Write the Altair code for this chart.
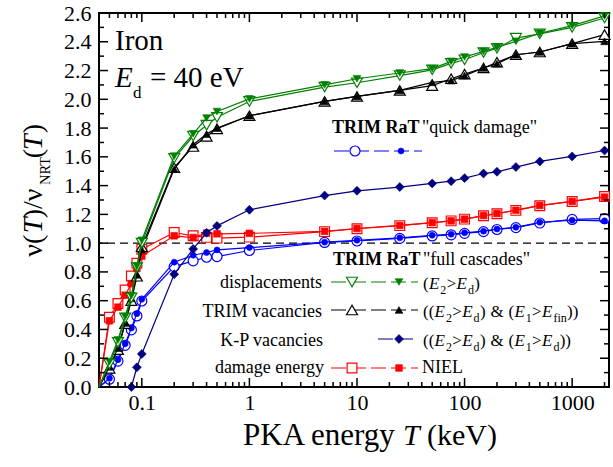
import altair as alt
import pandas as pd

# ---------------- data ----------------
T_ALL = [0.04, 0.05, 0.06, 0.07, 0.08, 0.09, 0.1, 0.2, 0.3, 0.4, 0.5, 1, 5, 10,
         25, 50, 75, 100, 150, 200, 300, 500, 1000, 2000]
T_KP = [0.08, 0.09, 0.1, 0.2, 0.3, 0.4, 0.5, 1, 5, 10, 25, 50, 75, 100, 150,
        200, 300, 500, 1000, 2000]

disp_open = [0, 0.16, 0.31, 0.48, 0.62, 0.83, 1.00, 1.59, 1.745, 1.82, 1.875, 1.985,
             2.085, 2.115, 2.165, 2.205, 2.25, 2.275, 2.325, 2.355, 2.425, 2.455, 2.50, 2.565]
disp_filled = [0, 0.176, 0.327, 0.49, 0.635, 0.84, 1.02, 1.605, 1.76, 1.87, 1.915, 2.003,
               2.10, 2.143, 2.183, 2.213, 2.264, 2.294, 2.333, 2.361, 2.403, 2.459, 2.512, 2.58]
vac_open = [0, 0.13, 0.26, 0.44, 0.60, 0.77, 0.975, 1.525, 1.672, 1.742, 1.795, 1.886,
            1.985, 2.02, 2.062, 2.095, 2.143, 2.175, 2.218, 2.258, 2.31, 2.329, 2.387, 2.45]
vac_filled = [0, 0.14, 0.27, 0.445, 0.617, 0.78, 0.955, 1.515, 1.684, 1.758, 1.80, 1.886,
              1.985, 2.02, 2.062, 2.118, 2.13, 2.165, 2.218, 2.248, 2.31, 2.329, 2.387, 2.403]
circ_open = [0, 0.054, 0.18, 0.29, 0.397, 0.494, 0.598, 0.837, 0.877, 0.902, 0.907, 0.949,
             1.005, 1.015, 1.033, 1.05, 1.058, 1.068, 1.08, 1.095, 1.108, 1.14, 1.165, 1.17]
circ_filled = [0, 0.06, 0.19, 0.30, 0.41, 0.51, 0.61, 0.868, 0.916, 0.935, 0.953, 0.969,
               1.007, 1.02, 1.037, 1.055, 1.062, 1.072, 1.083, 1.098, 1.11, 1.145, 1.16, 1.155]
damage_energy = [0, 0.485, 0.58, 0.675, 0.772, 0.861, 0.958, 1.074, 1.051, 1.04, 1.035, 1.042,
                 1.08, 1.10, 1.122, 1.142, 1.155, 1.167, 1.19, 1.205, 1.228, 1.26, 1.29, 1.325]
niel = [0, 0.46, 0.555, 0.638, 0.718, 0.824, 0.91, 1.051, 1.039, 1.07, 1.065, 1.068,
        1.082, 1.102, 1.123, 1.143, 1.155, 1.167, 1.192, 1.206, 1.229, 1.262, 1.29, 1.32]
kp_vac = [0, 0.137, 0.23, 0.784, 0.96, 1.072, 1.12, 1.232, 1.331, 1.364, 1.39, 1.415,
          1.431, 1.452, 1.484, 1.496, 1.529, 1.568, 1.603, 1.644]

X_LABELS = [0.1, 1, 10, 100, 1000]
Y_LABELS = [0.0, 0.2, 0.4, 0.6, 0.8, 1.0, 1.2, 1.4, 1.6, 1.8, 2.0, 2.2, 2.4, 2.6]
X_DOMAIN = [0.04, 2200]
Y_DOMAIN = [0, 2.6]

GREEN, BLACK, NAVY, BLUE, RED = "#008000", "#000000", "#000080", "#0000ff", "#ff0000"
FONT = "Liberation Serif"
W, H = 510, 374
PADL, PADT = 99, 13

x_minor = [m * 10 ** e for e in (-2, -1, 0, 1, 2, 3) for m in range(2, 10)]
x_minor = [round(v, 6) for v in x_minor if X_DOMAIN[0] < v < X_DOMAIN[1]]
y_major = [v for v in Y_LABELS if 0 < v < 2.6]
y_minor = [round(0.1 + 0.2 * i, 1) for i in range(13)]

X = alt.X("T:Q", scale=alt.Scale(type="log", domain=X_DOMAIN, nice=False),
          axis=alt.Axis(values=X_LABELS, format="~g", labelFont=FONT, labelFontSize=22,
                        labelColor="black", ticks=False, tickSize=0, domain=False,
                        grid=False, labelPadding=5, labelFlush=False, title=None))
Y = alt.Y("v:Q", scale=alt.Scale(domain=Y_DOMAIN, nice=False),
          axis=alt.Axis(values=Y_LABELS, format=".1f", labelFont=FONT, labelFontSize=22,
                        labelColor="black", ticks=False, tickSize=0, domain=False,
                        grid=False, labelPadding=8, labelFlush=False, title=None))


def series(T, v, color, shape, size, open_):
    df = pd.DataFrame({"T": T, "v": v})
    line = alt.Chart(df).mark_line(color=color, strokeWidth=1.2).encode(x=X, y=Y)
    pts = alt.Chart(df).transform_filter("datum.T > 0.041").mark_point(
        shape=shape, size=size, filled=True, opacity=1,
        fill="white" if open_ else color, stroke=color,
        strokeWidth=1.2 if open_ else 0.6).encode(x=X, y=Y)
    return [line, pts]


layers = []
layers.append(alt.Chart(pd.DataFrame({"v": [1.0]})).mark_rule(
    color="black", strokeDash=[8, 5], strokeWidth=1.3).encode(y=Y))
layers += series(T_ALL, circ_open, BLUE, "circle", 100, True)
layers += series(T_ALL, circ_filled, BLUE, "circle", 36, False)
layers += series(T_ALL, damage_energy, RED, "square", 95, True)
layers += series(T_ALL, niel, RED, "square", 45, False)
layers += series(T_KP, kp_vac, NAVY, "diamond", 80, False)
layers += series(T_ALL, vac_open, BLACK, "triangle-up", 120, True)
layers += series(T_ALL, vac_filled, BLACK, "triangle-up", 60, False)
layers += series(T_ALL, disp_open, GREEN, "triangle-down", 120, True)
layers += series(T_ALL, disp_filled, GREEN, "triangle-down", 60, False)


# ---------------- inward ticks on all four sides ----------------
def xticks(values, v, size, off):
    df = pd.DataFrame({"T": values, "v": [v] * len(values)})
    return alt.Chart(df).mark_tick(orient="vertical", size=size, thickness=1.5,
                                   yOffset=off, color="black", opacity=1).encode(x=X, y=Y)


def yticks(values, t, size, off):
    df = pd.DataFrame({"T": [t] * len(values), "v": values})
    return alt.Chart(df).mark_tick(orient="horizontal", size=size, thickness=1.5,
                                   xOffset=off, color="black", opacity=1).encode(x=X, y=Y)


layers += [xticks(X_LABELS, 0, 9, -4.5), xticks(x_minor, 0, 5, -2.5),
           xticks(X_LABELS, 2.6, 9, 4.5), xticks(x_minor, 2.6, 5, 2.5),
           yticks(y_major, X_DOMAIN[0], 9, 4.5), yticks(y_minor, X_DOMAIN[0], 5, 2.5),
           yticks(y_major, X_DOMAIN[1], 9, -4.5), yticks(y_minor, X_DOMAIN[1], 5, -2.5)]


# ---------------- text annotations ----------------
def text_layer(rows, style="normal", weight="normal", angle=0, align="left"):
    df = pd.DataFrame(rows, columns=["text", "px", "py", "size"])
    df["px"] = df["px"] - PADL
    df["py"] = df["py"] - PADT
    mk = dict(font=FONT, fontStyle=style, fontWeight=weight, align=align,
              baseline="alphabetic", color="black")
    if angle:
        mk["angle"] = angle
    return alt.Chart(df).mark_text(**mk).encode(
        x=alt.X("px:Q", scale=None, axis=None),
        y=alt.Y("py:Q", scale=None, axis=None),
        size=alt.Size("size:Q", scale=None, legend=None),
        text="text:N")


# Times-metric character widths (em) used to lay out mixed-style formulas
CW = {"(": .333, ")": .333, ">": .564, "&": .778, " ": .25, "1": .5, "2": .5,
      "d": .5, "f": .333, "i": .278, "n": .5, "E": .611}
MAIN, SUB = 17, 12


def formula(x0, base, seq, normal, italic):
    x = x0
    for txt, kind in seq:
        size = SUB if kind == "s" else MAIN
        if kind != "g":
            y = base + 5 if kind == "s" else base
            (italic if kind == "i" else normal).append((txt, x, y, size))
        x += sum(CW[c] for c in txt) * size + (1.0 if kind == "i" else 0.3)


normal_rows = [
    ("Iron", 115, 50, 29), ("= 40 eV", 150, 87, 29), ("d", 133, 98, 17),
    ('"quick damage"', 422, 133, 18), ('"full cascades"', 423, 265, 18),
    ("NIEL", 422, 373, 18),
    ("PKA energy", 243, 445, 31), ("(keV)", 427, 445, 30),
]
italic_rows = [("E", 115, 87, 29), ("T", 403, 445, 30)]

ed = [("E", "i"), ("2", "s"), (">", "n"), ("E", "i"), ("d", "s")]
amp = [(")", "n"), (" ", "g"), ("&", "n"), (" ", "g"), ("(", "n"), ("E", "i"),
       ("1", "s"), (">", "n"), ("E", "i")]
formula(423, 289, [("(", "n")] + ed + [(")", "n")], normal_rows, italic_rows)
formula(423, 317, [("((", "n")] + ed + amp + [("fin", "s"), ("))", "n")],
        normal_rows, italic_rows)
formula(423, 346, [("((", "n")] + ed + amp + [("d", "s"), ("))", "n")],
        normal_rows, italic_rows)

bold_rows = [("TRIM RaT", 332, 133, 18), ("TRIM RaT", 333, 265, 18)]
right_rows = [("displacements", 322, 288, 18), ("TRIM vacancies", 322, 317, 18),
              ("K-P vacancies", 323, 346, 18), ("damage energy", 324, 373, 18)]
ytitle_normal = [("ν(", 42, 256.7, 28), (")/ν", 42, 218.3, 28), ("NRT", 50, 185, 14.5),
                 ("(", 42, 158.3, 28), (")", 42, 133.3, 28)]
ytitle_italic = [("T", 42, 233.3, 28), ("T", 42, 150, 28)]

layers += [text_layer(normal_rows), text_layer(italic_rows, style="italic"),
           text_layer(bold_rows, weight="bold"), text_layer(right_rows, align="right"),
           text_layer(ytitle_normal, angle=270), text_layer(ytitle_italic, style="italic", angle=270)]

# ---------------- hand-made legend samples ----------------
samples = pd.DataFrame({
    "x1": [334, 331, 331, 378, 331], "x2": [422, 418, 418, 418, 418],
    "y": [151, 282, 310, 339, 368], "c": [BLUE, GREEN, BLACK, NAVY, RED]})
samples["x1"] -= PADL
samples["x2"] -= PADL
samples["y"] -= PADT
layers.append(alt.Chart(samples).mark_rule(strokeWidth=1.2, strokeDash=[15, 5]).encode(
    x=alt.X("x1:Q", scale=None, axis=None), x2="x2:Q",
    y=alt.Y("y:Q", scale=None, axis=None), color=alt.Color("c:N", scale=None, legend=None)))

open_m = pd.DataFrame({"px": [355, 352, 352, 352], "py": [151, 282, 310, 368],
                       "shape": ["circle", "triangle-down", "triangle-up", "square"],
                       "size": [100, 120, 120, 95], "c": [BLUE, GREEN, BLACK, RED]})
fill_m = pd.DataFrame({"px": [401, 399, 399, 399, 399], "py": [151, 282, 310, 339, 368],
                       "shape": ["circle", "triangle-down", "triangle-up", "diamond", "square"],
                       "size": [36, 60, 60, 80, 45], "c": [BLUE, GREEN, BLACK, NAVY, RED]})
for df, is_open in ((open_m, True), (fill_m, False)):
    df["px"] -= PADL
    df["py"] -= PADT
    enc = dict(x=alt.X("px:Q", scale=None, axis=None), y=alt.Y("py:Q", scale=None, axis=None),
               shape=alt.Shape("shape:N", scale=None, legend=None),
               size=alt.Size("size:Q", scale=None, legend=None),
               stroke=alt.Stroke("c:N", scale=None, legend=None))
    if is_open:
        mk = alt.Chart(df).mark_point(filled=True, fill="white", strokeWidth=1.2, opacity=1)
    else:
        enc["fill"] = alt.Fill("c:N", scale=None, legend=None)
        mk = alt.Chart(df).mark_point(filled=True, strokeWidth=0.6, opacity=1)
    layers.append(mk.encode(**enc))

chart = alt.layer(*layers).properties(
    width=W, height=H,
    padding={"left": PADL, "top": PADT, "right": 4, "bottom": 80},
    autosize=alt.AutoSizeParams(type="none"),
    background="white",
).configure_view(stroke="black", strokeWidth=2)

chart.save("out.html", embed_options={"renderer": "svg", "actions": False})
